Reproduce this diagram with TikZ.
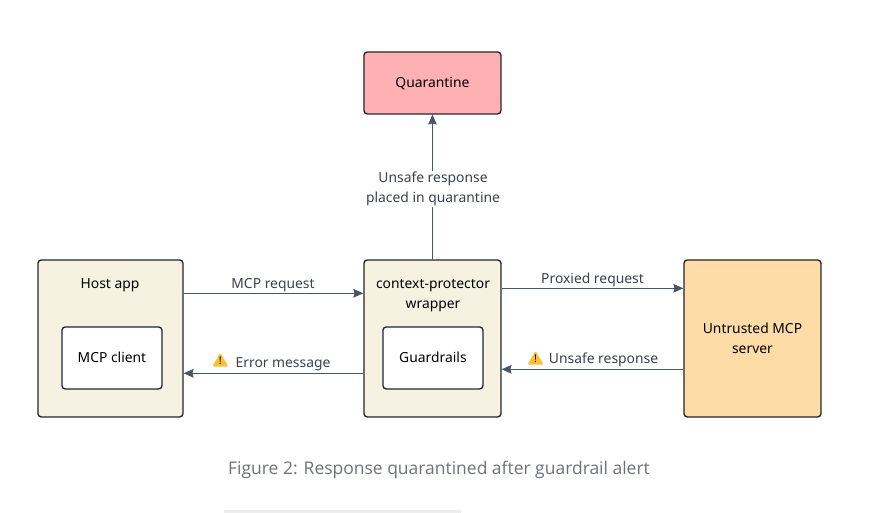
\documentclass[tikz,border=0pt]{standalone}
\usepackage{fontspec}
\setmainfont{Noto Sans}
\newfontfamily\capfont{Open Sans}
\usetikzlibrary{arrows.meta}
\definecolor{edgec}{HTML}{4A5563}
\definecolor{boxline}{HTML}{22262B}
\definecolor{cream}{HTML}{F5F2E2}
\definecolor{pinkq}{HTML}{FFB0B3}
\definecolor{orangeq}{HTML}{FEDCA6}
\definecolor{warny}{HTML}{FDC02F}
\definecolor{labelc}{HTML}{3C424A}
\definecolor{capc}{HTML}{6F7378}
\newcommand{\lowr}[1]{\raisebox{-3.7pt}[0pt][0pt]{#1}}
\tikzset{
  box/.style={draw=boxline,line width=1pt,rounded corners=2.5pt,inner sep=0pt,anchor=north west,align=center,text=black,font=\fontsize{10.4}{15}\selectfont},
  conn/.style={draw=edgec,line width=0.55pt,-{Stealth[length=7.5pt,width=6.5pt,inset=1pt]}},
  lab/.style={text=labelc,font=\fontsize{10.4}{15}\selectfont,inner sep=1pt,align=center},
  warntri/.style={fill=warny,draw=warny,line width=1.4pt,line join=round},
  warnmark/.style={inner sep=0pt,text=black,font=\bfseries\fontsize{8}{8}\selectfont}
}
\begin{document}
\begin{tikzpicture}[x=0.75pt,y=-0.75pt]
\useasboundingbox (0,0) rectangle (870,513);
\fill[white] (0,0) rectangle (870,513);
% boxes
\node[box,fill=pinkq,minimum width=137*0.75pt,minimum height=62*0.75pt] (quar) at (363.3,51.3) {\lowr{Quarantine}};
\node[box,fill=cream,minimum width=145*0.75pt,minimum height=157*0.75pt] (host) at (37.3,259.3) {};
\node[box,fill=white,minimum width=100*0.75pt,minimum height=62*0.75pt] (client) at (61.3,326.3) {\lowr{MCP client}};
\node[box,fill=cream,minimum width=137*0.75pt,minimum height=157*0.75pt] (wrap) at (363.3,259.3) {};
\node[box,fill=white,minimum width=100*0.75pt,minimum height=62*0.75pt] (guard) at (382.3,326.3) {\lowr{Guardrails}};
\node[box,fill=orangeq,minimum width=137*0.75pt,minimum height=157*0.75pt] (server) at (683.3,259.3) {Untrusted MCP\\server};
\node[font=\fontsize{10.4}{15}\selectfont,text=black,inner sep=0pt] (hostt) at (110,285.5) {Host app};
\node[font=\fontsize{10.4}{15}\selectfont,text=black,inner sep=0pt,align=center] (wrapt) at (433,295.5) {context-protector\\wrapper};
% connector heights
\coordinate (ya) at (0,293.3);
\coordinate (yb) at (0,373.3);
\coordinate (yc) at (0,288.3);
\coordinate (yd) at (0,369.3);
% connectors
\draw[conn] (wrap.north) -- (quar.south);
\draw[conn] (host.east |- ya) -- (wrap.west |- ya);
\draw[conn] (wrap.west |- yb) -- (host.east |- yb);
\draw[conn] (wrap.east |- yc) -- (server.west |- yc);
\draw[conn] (server.west |- yd) -- (wrap.east |- yd);
% labels
\node[lab,fill=white] (l1) at (433,189) {Unsafe response\\placed in quarantine};
\node[lab] (l2) at (273,285) {MCP request};
\node[lab] (l3) at (283,364) {Error message};
\node[lab] (l4) at (592.5,280) {Proxied request};
\node[lab] (l5) at (603.5,360) {Unsafe response};
% warning icons
\draw[warntri] (220.3,354.8) -- (226.8,365.8) -- (213.8,365.8) -- cycle;
\node[warnmark] (w1) at (220.3,361) {!};
\draw[warntri] (535.5,352.8) -- (542,363.8) -- (529,363.8) -- cycle;
\node[warnmark] (w2) at (535.5,359) {!};
% caption
\node[text=capc,inner sep=0pt,font=\capfont\fontsize{13.1}{15}\selectfont] (cap) at (439,470) {Figure 2: Response quarantined after guardrail alert};
\fill[black!7] (224,510) rectangle (461,513);
\end{tikzpicture}
\end{document}
